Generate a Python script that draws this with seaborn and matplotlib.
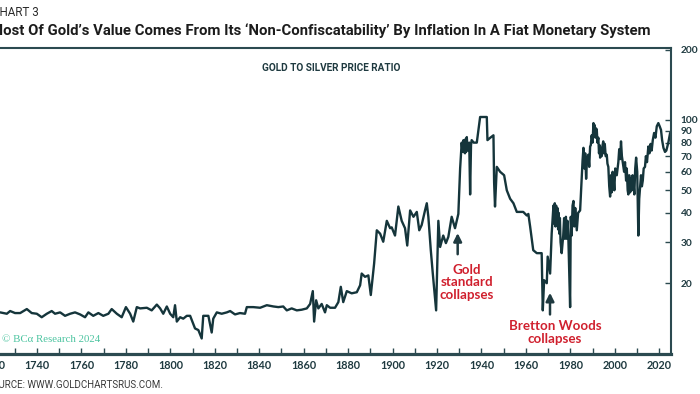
import numpy as np
import pandas as pd
import matplotlib
matplotlib.use("Agg")
import matplotlib.pyplot as plt
import seaborn as sns
from matplotlib import font_manager as fm
from matplotlib.ticker import FixedLocator, FixedFormatter, NullLocator

# ---------------- data ----------------
years = [1723.4, 1726.4, 1727.9, 1730.1, 1732.4, 1735.4, 1737.6, 1739.9, 1742.1, 1744.4,
         1746.6, 1748.1, 1750.4, 1752.6, 1754.9, 1757.1, 1759.4, 1761.6, 1763.1, 1765.3,
         1767.6, 1769.8, 1772.1, 1773.6, 1775.9, 1778.1, 1780.0, 1781.9, 1783.3, 1784.9,
         1786.4, 1789.4, 1791.6, 1793.9, 1795.4, 1796.8, 1798.4, 1799.9, 1801.3, 1802.1,
         1802.9, 1804.4, 1805.8, 1807.4, 1808.9, 1811.1, 1812.6, 1814.1, 1814.8, 1817.1,
         1818.6, 1819.3, 1820.9, 1823.1, 1825.4, 1826.9, 1829.1, 1831.3, 1833.6, 1834.4,
         1837.3, 1840.4, 1843.4, 1846.4, 1848.6, 1850.8, 1852.4, 1854.6, 1856.9, 1859.1,
         1861.4, 1862.9, 1864.1, 1864.7, 1865.6, 1866.6, 1868.1, 1869.6, 1870.4, 1871.9,
         1874.1, 1875.6, 1876.7, 1877.8, 1879.4, 1881.6, 1883.9, 1885.4, 1886.1, 1887.6,
         1889.1, 1890.2, 1891.7, 1892.9, 1894.4, 1895.8, 1897.4, 1898.9, 1899.6, 1901.1,
         1902.6, 1904.1, 1905.6, 1906.6, 1907.9, 1909.4, 1910.9, 1912.0, 1913.1, 1914.6,
         1915.4, 1916.1, 1917.2, 1918.1, 1919.6, 1920.6, 1921.4, 1922.8, 1924.0, 1925.1,
         1926.6, 1928.1, 1929.6, 1930.4, 1931.1, 1931.5, 1931.9, 1932.2, 1932.6, 1932.9,
         1933.1, 1933.4, 1933.7, 1934.1, 1934.5, 1934.9, 1935.3, 1935.6, 1936.5, 1937.9,
         1939.4, 1942.4, 1942.7, 1944.0, 1945.4, 1945.7, 1946.1, 1946.9, 1948.4, 1950.2,
         1951.4, 1952.9, 1954.4, 1955.9, 1958.8, 1960.4, 1961.1, 1961.9, 1963.3, 1964.9,
         1967.1, 1967.6, 1968.2, 1969.4, 1969.8, 1970.9, 1971.6, 1972.4, 1972.7, 1973.0,
         1973.3, 1973.6, 1973.9, 1974.2, 1974.5, 1974.8, 1975.0, 1975.3, 1975.6, 1976.1,
         1976.8, 1977.2, 1977.5, 1978.0, 1978.3, 1978.7, 1979.1, 1979.9, 1980.2, 1980.6,
         1981.0, 1981.4, 1981.8, 1982.2, 1982.9, 1983.5, 1984.4, 1985.1, 1985.5, 1985.9,
         1986.3, 1986.7, 1987.1, 1987.5, 1988.1, 1988.5, 1988.9, 1989.2, 1989.6, 1990.0,
         1990.4, 1990.7, 1991.0, 1991.3, 1991.6, 1991.9, 1992.2, 1992.6, 1992.9, 1993.2,
         1993.4, 1993.8, 1994.1, 1994.5, 1994.8, 1995.1, 1995.5, 1995.9, 1996.4, 1996.7,
         1997.1, 1997.5, 1997.9, 1998.3, 1998.6, 1999.0, 1999.4, 1999.8, 2000.2, 2000.9,
         2001.6, 2002.0, 2002.4, 2002.8, 2003.2, 2003.8, 2004.2, 2004.6, 2005.1, 2005.4,
         2005.8, 2006.1, 2006.5, 2006.9, 2007.2, 2007.6, 2008.0, 2008.4, 2008.8, 2009.2,
         2009.6, 2010.1, 2010.6, 2011.0, 2011.4, 2011.8, 2012.2, 2012.6, 2013.0, 2013.6,
         2014.0, 2014.5, 2015.1, 2015.6, 2016.1, 2016.6, 2017.1, 2017.7, 2018.3, 2018.9,
         2019.6, 2020.2, 2020.8, 2021.3, 2021.9, 2022.6, 2023.2, 2024.1, 2024.9]

ratio = [15.0, 14.8, 15.2, 14.9, 14.9, 15.5, 14.9, 14.8, 14.3, 14.8,
         15.2, 14.8, 15.0, 14.5, 14.8, 15.0, 14.7, 14.3, 15.0, 14.5,
         14.9, 14.5, 14.8, 15.5, 14.8, 14.3, 15.8, 14.8, 13.7, 15.8,
         15.6, 15.7, 15.3, 16.2, 15.6, 14.8, 15.9, 14.8, 14.3, 16.1,
         13.7, 14.3, 14.1, 14.5, 14.5, 12.8, 12.6, 11.6, 14.5, 14.5,
         12.3, 14.1, 15.0, 14.8, 15.0, 15.2, 14.7, 14.9, 14.8, 15.8,
         15.8, 15.7, 16.1, 15.9, 15.8, 15.9, 15.3, 15.6, 15.3, 15.4,
         15.6, 16.3, 18.5, 13.7, 16.9, 15.6, 16.3, 15.0, 16.1, 15.7,
         15.7, 16.6, 19.3, 16.6, 18.5, 18.1, 18.3, 19.6, 22.0, 21.3,
         21.6, 17.8, 24.3, 33.7, 32.6, 30.1, 37.0, 34.4, 34.7, 32.0,
         42.6, 37.0, 34.4, 29.0, 41.0, 38.5, 40.4, 33.7, 35.5, 41.0,
         44.0, 38.5, 27.7, 22.0, 15.3, 37.0, 28.6, 32.0, 29.7, 31.6,
         38.5, 34.4, 39.6, 62.0, 80.0, 73.0, 82.0, 73.0, 72.0, 83.0,
         73.0, 84.5, 76.0, 74.0, 80.0, 48.0, 78.0, 82.0, 80.0, 80.0,
         103.0, 103.0, 82.0, 84.0, 86.0, 54.0, 42.6, 63.0, 60.0, 58.0,
         50.0, 46.0, 44.0, 40.4, 40.4, 39.0, 39.6, 35.0, 27.7, 26.9,
         26.9, 15.3, 20.6, 20.0, 26.0, 22.0, 32.6, 43.0, 36.0, 44.0,
         35.0, 43.0, 36.0, 42.0, 34.0, 40.0, 32.6, 38.0, 30.0, 26.9,
         32.0, 38.0, 31.0, 38.5, 31.0, 37.0, 31.6, 15.8, 38.5, 32.0,
         43.0, 45.0, 35.0, 42.0, 33.7, 40.0, 41.0, 56.0, 67.0, 76.0,
         62.0, 72.0, 56.0, 68.0, 71.0, 63.0, 77.0, 78.0, 86.0, 80.0,
         97.0, 85.0, 95.0, 84.0, 92.0, 90.7, 80.0, 84.0, 72.0, 78.0,
         69.0, 76.0, 70.0, 78.0, 81.0, 72.0, 79.0, 70.0, 71.0, 65.0,
         63.0, 52.0, 47.0, 58.0, 49.0, 60.0, 57.0, 50.0, 62.0, 58.0,
         66.0, 75.0, 68.0, 81.0, 70.0, 64.0, 60.0, 66.0, 55.0, 62.0,
         50.0, 48.0, 58.0, 49.0, 56.0, 50.0, 58.0, 54.0, 48.0, 62.0,
         69.0, 60.0, 32.0, 46.0, 52.0, 58.0, 52.0, 55.0, 62.0, 63.0,
         70.0, 66.0, 77.0, 72.0, 79.0, 74.0, 82.0, 88.0, 84.0, 94.0,
         97.0, 94.0, 90.7, 82.0, 76.0, 73.0, 74.0, 80.0, 88.0]

y_ticks = [20, 30, 40, 50, 60, 70, 80, 90, 100, 200]
y_tick_labels = ["20", "30", "40", "50", "60", "70", "80", "90", "100", "200"]
x_label_years = list(range(1720, 2021, 20))
x_minor_years = list(range(1730, 2021, 20))

chart_no = "CHART 3"
title = "Most Of Gold\u2019s Value Comes From Its \u2018Non-Confiscatability\u2019 By Inflation In A Fiat Monetary System"
subtitle = "GOLD TO SILVER PRICE RATIO"
source = "SOURCE: WWW.GOLDCHARTSRUS.COM."
brand = "\u00a9 BC\u03b1 Research 2024"
note1 = "Gold\nstandard\ncollapses"
note2 = "Bretton Woods\ncollapses"

# ---------------- style ----------------
sns.set_theme(style="white")
plt.rcParams["font.family"] = ["Roboto", "DejaVu Sans"]

LINE = "#15353b"
SPINE = "#2b4a50"
DARK = "#1f3a40"
RED = "#d0202e"
GREEN = "#4cc4a0"
HEAD = "Roboto"

W, H = 700, 394
fig = plt.figure(figsize=(W / 100, H / 100), dpi=100)
fig.patch.set_facecolor("white")
ax = fig.add_axes([-7.4 / W, (H - 353.5) / H, 678.4 / W, 305.8 / H])

df = pd.DataFrame({"year": years, "ratio": ratio})
sns.lineplot(data=df, x="year", y="ratio", ax=ax, color=LINE, linewidth=1.7,
             estimator=None, sort=False)

ax.set_yscale("log")
ax.set_xlim(1720, 2025.3)
ax.set_ylim(10, 204)
ax.set_xlabel("")
ax.set_ylabel("")

for s in ["top", "right"]:
    ax.spines[s].set_color(SPINE)
    ax.spines[s].set_linewidth(1.5)
ax.spines["bottom"].set_color(SPINE)
ax.spines["bottom"].set_linewidth(2.3)
ax.spines["left"].set_visible(False)

ax.yaxis.tick_right()
ax.yaxis.set_major_locator(FixedLocator(y_ticks))
ax.yaxis.set_major_formatter(FixedFormatter(y_tick_labels))
ax.yaxis.set_minor_locator(NullLocator())
ax.tick_params(axis="y", which="major", direction="in", length=4, width=1,
               color=SPINE, pad=7, labelsize=7.3, labelcolor=DARK, right=True, left=False)

ax.xaxis.set_major_locator(FixedLocator(x_label_years))
ax.xaxis.set_major_formatter(FixedFormatter([str(v) for v in x_label_years]))
ax.xaxis.set_minor_locator(FixedLocator(x_minor_years))
ax.tick_params(axis="x", which="both", direction="in", length=4, width=1,
               color=SPINE, bottom=True, top=False)
ax.tick_params(axis="x", which="major", pad=5, labelsize=7.8, labelcolor=DARK)
for lbl in ax.get_yticklabels():
    lbl.set_fontweight("bold")
    lbl.set_family("Lato")
for lbl in ax.get_xticklabels():
    lbl.set_fontweight("bold")
    lbl.set_family("Lato")
ax.grid(False)

# annotations
ax.annotate("", xy=(1929.3, 33.7), xytext=(1929.3, 25.9),
            arrowprops=dict(arrowstyle="-|>", color=DARK, lw=1.8, mutation_scale=12))
ax.annotate("", xy=(1970.85, 18.7), xytext=(1970.85, 14.3),
            arrowprops=dict(arrowstyle="-|>", color=DARK, lw=1.8, mutation_scale=12))
ax.text(1933.5, 20.2, note1, ha="center", va="center", color=RED, fontsize=9.6,
        fontweight="bold", family="Lato", linespacing=1.05)
ax.text(1973.1, 12.3, note2, ha="center", va="center", color=RED, fontsize=9.6,
        fontweight="bold", family="Lato", linespacing=1.05)

renderer = fig.canvas.get_renderer()


def fit(t, width_px):
    bb = t.get_window_extent(renderer=renderer)
    t.set_fontsize(t.get_fontsize() * width_px / bb.width)


t_chart = fig.text(39 / W, 1 - 12 / H, chart_no, ha="right", va="center", fontsize=9,
                   family=HEAD, color="#2a2a2a")
fit(t_chart, 47)
t_title = fig.text(651 / W, 1 - 31 / H, title, ha="right", va="center", fontsize=11,
                   family=HEAD, fontweight="bold", color="#1c1c1c")
fit(t_title, 663)
t_sub = fig.text(331 / W, 1 - 68 / H, subtitle, ha="center", va="center", fontsize=7.2,
                 family=HEAD, fontweight="bold", color=DARK)
t_src = fig.text(163 / W, 1 - 385 / H, source, ha="right", va="center", fontsize=7,
                 family=HEAD, color="#3a3a3a")
fit(t_src, 177)
t_brand = fig.text(2 / W, 1 - 339 / H, brand, ha="left", va="center", fontsize=8,
                   family="Liberation Serif", color=GREEN)
fit(t_brand, 98)

fig.savefig("out.png", dpi=100, facecolor="white")
